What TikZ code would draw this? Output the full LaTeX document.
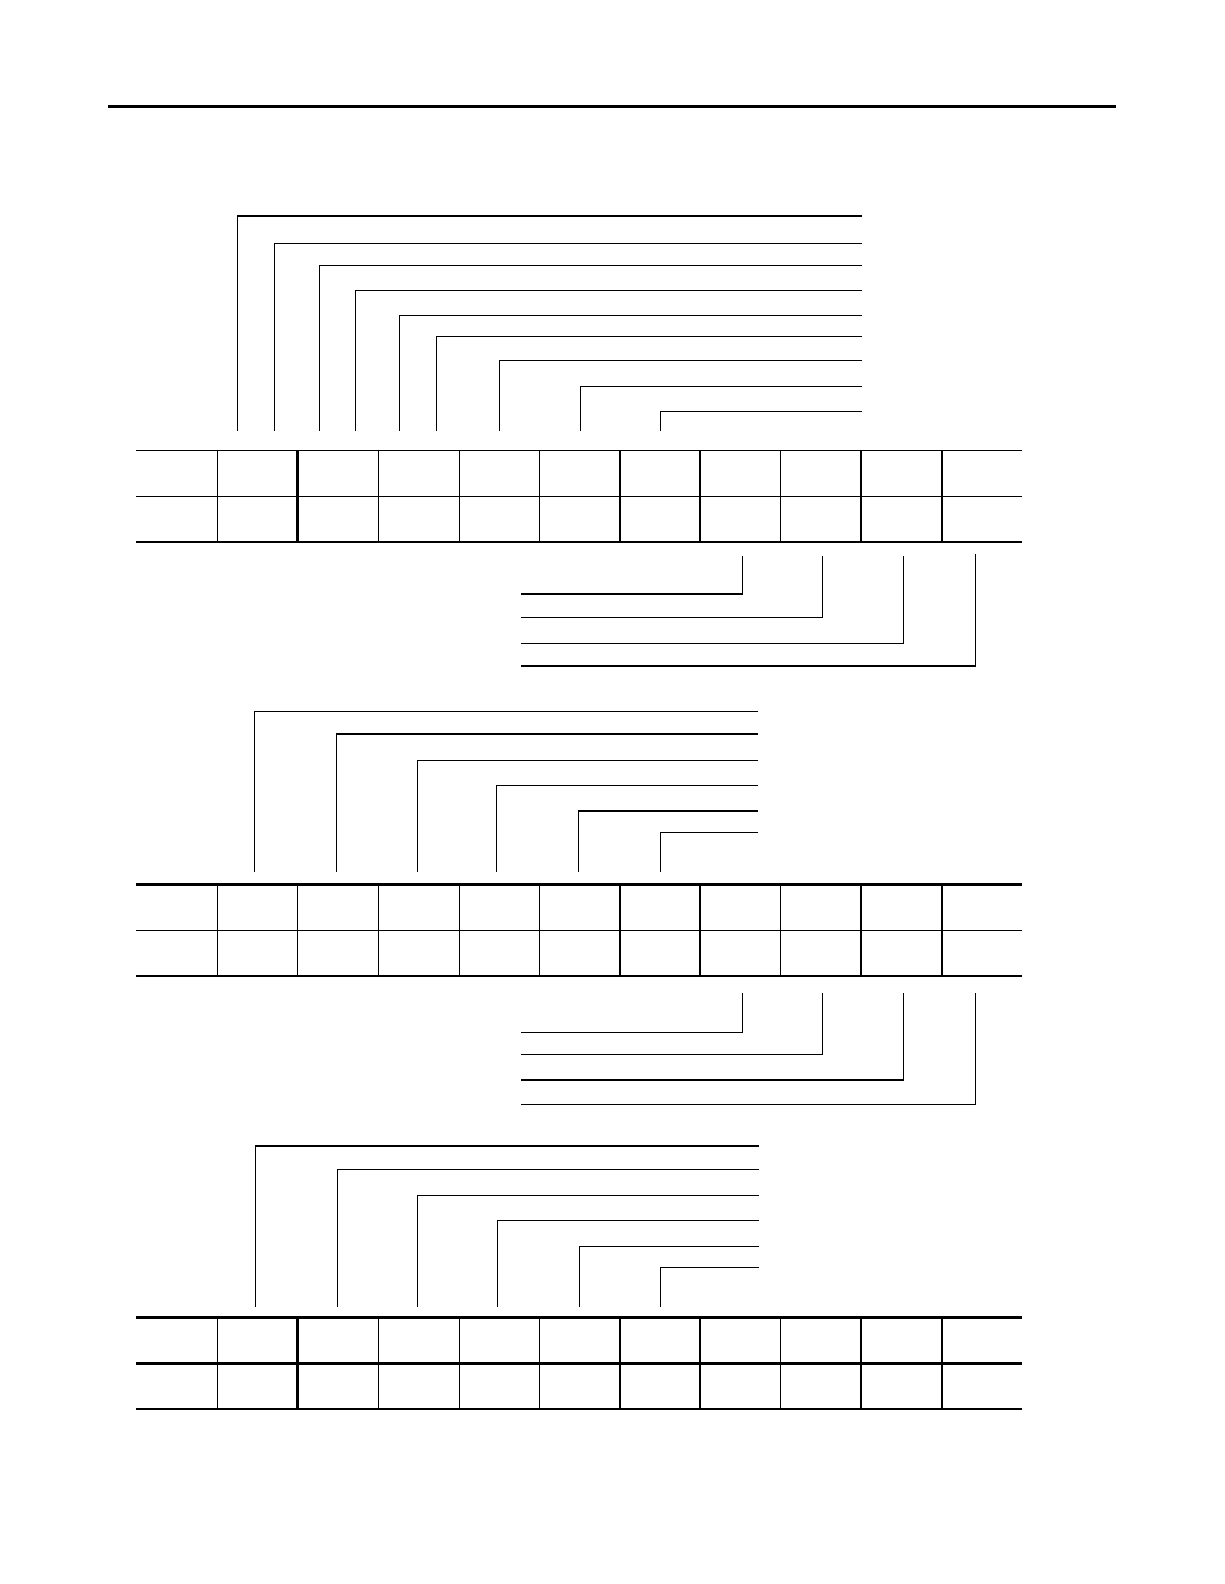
\documentclass[tikz,border=0pt]{standalone}
\begin{document}
\begin{tikzpicture}[x=1pt,y=-1pt,
  rule/.style={line width=3pt},
  gridline/.style={line width=1.4pt},
  heavyline/.style={line width=2.6pt},
  leader/.style={line width=1.3pt}]
\useasboundingbox (0,0) rectangle (1224,1584);
% top rule
\draw[rule] (108,106.3) -- (1116,106.3);
%
% ---------- Table 1 ----------
\foreach \y in {450.3,496.3,542} \draw[gridline] (136,\y) -- (1022,\y);
\foreach \x in {217.3,378.3,459.3,539.3,700,780.5,861,942} \draw[gridline] (\x,450.3) -- (\x,542);
\foreach \x in {297.7,620} \draw[heavyline] (\x,450.3) -- (\x,542);
% top leaders table 1
\foreach \x/\y in {237.3/216,274.6/243.3,319.7/265.3,355.6/290.3,399.7/315.3,436.5/336.3,499.5/360.3,580.5/386.3,660.5/411.3}
  \draw[leader] (\x,430.7) |- (861.6,\y);
% bottom leaders table 1
\foreach \x/\y/\t in {742.3/594/556,822.3/617.3/556,903.7/643.3/556,975.3/666/554}
  \draw[leader] (521,\y) -| (\x,\t);
%
% ---------- Table 2 ----------
\foreach \y in {930.2,975.8} \draw[gridline] (136,\y) -- (1022,\y);
\draw[heavyline] (136,884.5) -- (1022,884.5);
\foreach \x in {217.3,297.7,378.3,459.3,539.3,700,780.5,861,942} \draw[gridline] (\x,884.5) -- (\x,975.8);
\draw[heavyline] (620,884.5) -- (620,975.8);
% top leaders table 2
\foreach \x/\y in {254.5/711.7,336.4/734,417.3/760.3,496.5/785.7,578.2/811,660.4/832.7}
  \draw[leader] (\x,871.7) |- (758.3,\y);
% bottom leaders table 2
\foreach \x/\y in {742.3/1032.3,822.3/1054.3,903.7/1080,975.3/1104.3}
  \draw[leader] (521,\y) -| (\x,992.7);
%
% ---------- Table 3 ----------
\draw[gridline] (136,1409) -- (1022,1409);
\foreach \y in {1317.7,1363.3} \draw[heavyline] (136,\y) -- (1022,\y);
\foreach \x in {217.3,378.3,459.3,539.3,700,780.5,861,942} \draw[gridline] (\x,1317.7) -- (\x,1409);
\foreach \x in {297.7,620} \draw[heavyline] (\x,1317.7) -- (\x,1409);
% top leaders table 3
\foreach \x/\y in {255.5/1146,337.5/1169.3,417.3/1195.3,497.6/1220.3,579.2/1246.3,660.8/1267.3}
  \draw[leader] (\x,1306.7) |- (759.3,\y);
\end{tikzpicture}
\end{document}
